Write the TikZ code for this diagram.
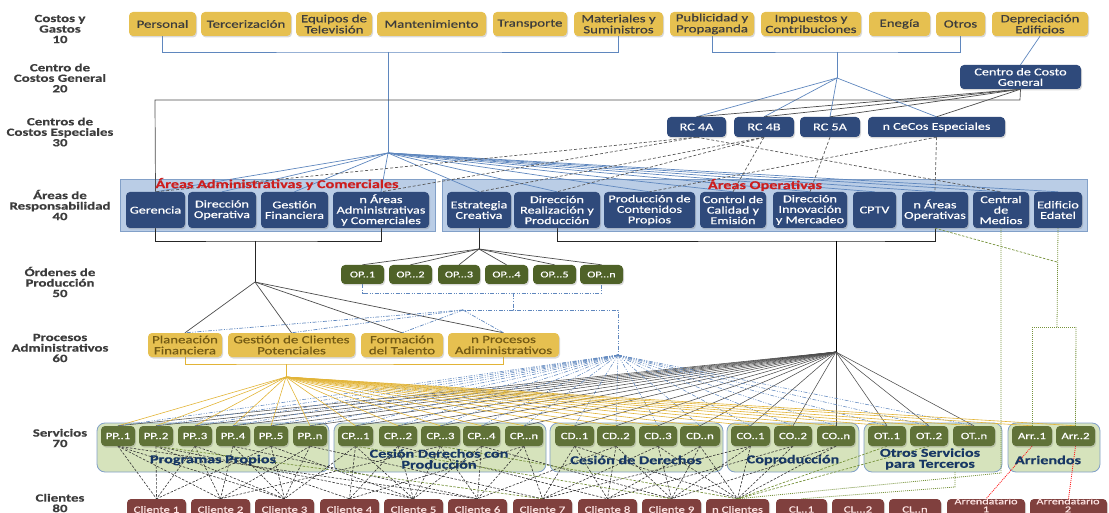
\documentclass[tikz,border=0pt]{standalone}
\usepackage{fontspec}
\setmainfont{Carlito}[FakeStretch=1.35,FakeBold=0.5]
\usetikzlibrary{shadows}
\pgfdeclarelayer{back}\pgfdeclarelayer{bg}\pgfsetlayers{back,bg,main}
\definecolor{gold}{RGB}{230,192,80}
\definecolor{goldln}{RGB}{226,180,55}
\definecolor{navy}{RGB}{47,74,123}
\definecolor{bluebg}{RGB}{186,205,230}
\definecolor{blueedge}{RGB}{130,160,200}
\definecolor{opgreen}{RGB}{79,98,40}
\definecolor{svc}{RGB}{96,114,56}
\definecolor{greenbg}{RGB}{214,227,188}
\definecolor{brownc}{RGB}{128,64,62}
\definecolor{lnblue}{RGB}{95,135,190}
\definecolor{oliveln}{RGB}{119,147,60}
\definecolor{lblgray}{RGB}{60,60,60}
\definecolor{titlered}{RGB}{205,30,30}
\definecolor{grpblue}{RGB}{23,55,100}
\definecolor{prtext}{RGB}{115,90,20}
\newcommand\bx[7]{\node[#1,minimum width={(#4-#3)*1pt},minimum height={(#6-#5)*1pt}] (#2) at ({(#3+#4)/2},{(#5+#6)/2}) {#7};}
\begin{document}
\begin{tikzpicture}[x=1pt,y=-1pt,
 shad/.style={drop shadow={shadow xshift=1pt,shadow yshift=-1.5pt,opacity=0.3}},
 boxbase/.style={draw=none,rounded corners=4pt,align=center,inner sep=1pt,shad},
 ybox/.style={boxbase,fill=gold,text=lblgray,font=\fontsize{11}{11}\selectfont},
 prbox/.style={boxbase,fill=gold,text=prtext,font=\fontsize{11}{11}\selectfont},
 nbox/.style={boxbase,fill=navy,text=white,font=\fontsize{10.5}{10.5}\selectfont},
 opbox/.style={boxbase,fill=opgreen,text=white,font=\fontsize{9}{9}\selectfont},
 svbox/.style={boxbase,fill=svc,text=white,font=\fontsize{9.5}{9.5}\selectfont},
 clbox/.style={boxbase,fill=brownc,text=white!90!red,font=\fontsize{9.5}{9}\selectfont},
 cltxt/.style={align=center,inner sep=0pt,text=white!90!red,font=\fontsize{9}{8}\selectfont},
 grpA/.style={draw=blueedge,fill=bluebg,line width=0.8pt},
 grpS/.style={draw=blueedge,fill=greenbg,rounded corners=8pt,line width=0.8pt},
 lbl/.style={align=center,text=lblgray,font=\bfseries\fontsize{11}{10.5}\selectfont},
 ttl/.style={text=titlered,font=\bfseries\fontsize{12}{12}\selectfont,inner sep=0pt},
 glbl/.style={align=center,text=grpblue,font=\bfseries\fontsize{12}{11}\selectfont,inner sep=0pt},
 bln/.style={draw=lnblue,line width=0.7pt},
 kln/.style={draw=black!70,line width=0.7pt},
 dkln/.style={draw=black!85,line width=0.6pt},
 yln/.style={draw=goldln,line width=0.6pt},
 bdd/.style={draw=lnblue,line width=0.7pt,dash pattern=on 4pt off 1.5pt on 1pt off 1.5pt on 1pt off 1.5pt},
 gdash/.style={draw=black!65,line width=0.7pt,dash pattern=on 3pt off 2pt},
 kdash/.style={draw=black!80,line width=0.6pt,dash pattern=on 2.5pt off 1.5pt},
 odash/.style={draw=oliveln,line width=0.7pt,dash pattern=on 2.5pt off 1.5pt},
 odot/.style={draw=oliveln,line width=0.8pt,dash pattern=on 1pt off 1pt},
 rdot/.style={draw=red!90,line width=0.8pt,dash pattern=on 1pt off 1pt}]
\useasboundingbox (0,0) rectangle (1109,513);
% ---------- level labels
\node[lbl] (l10) at (60,29) {Costos y\\Gastos\\10};
\node[lbl] (l20) at (60,78) {Centro de\\Costos General\\20};
\node[lbl] (l30) at (60,132) {Centros de\\Costos Especiales\\30};
\node[lbl] (l40) at (60,205) {Áreas de\\Responsabilidad\\40};
\node[lbl] (l50) at (60,282) {Órdenes de\\Producción\\50};
\node[lbl] (l60) at (60,348) {Procesos\\Administrativos\\60};
\node[lbl] (l70) at (60,438) {Servicios\\70};
\node[lbl] (l80) at (60,503) {Clientes\\80};
% ---------- containers
\begin{pgfonlayer}{back}
\bx{grpA}{gadm}{120}{435}{179}{231}{}
\bx{grpA}{gops}{442}{1087}{179}{231}{}
\bx{grpS}{gpp}{97}{329}{423}{472}{}
\bx{grpS}{gcp}{334}{546}{423}{472}{}
\bx{grpS}{gcd}{550}{723}{423}{472}{}
\bx{grpS}{gco}{727}{859}{423}{472}{}
\bx{grpS}{got}{864}{1002}{423}{472}{}
\bx{grpS}{gar}{1008}{1100}{423}{472}{}
\end{pgfonlayer}
% ---------- top row
\bx{ybox}{pers}{129}{196}{12}{36}{Personal}
\bx{ybox}{terc}{201}{291}{12}{36}{Tercerización}
\bx{ybox}{equi}{296}{372}{12}{36}{Equipos de\\Televisión}
\bx{ybox}{mant}{377}{486}{12}{36}{Mantenimiento}
\bx{ybox}{tran}{493}{567}{12}{36}{Transporte}
\bx{ybox}{mate}{574}{663}{12}{36}{Materiales y\\Suministros}
\bx{ybox}{publ}{670}{754}{12}{36}{Publicidad y\\Propaganda}
\bx{ybox}{impu}{761}{861}{12}{36}{Impuestos y\\Contribuciones}
\bx{ybox}{ener}{869}{930}{12}{36}{Enegía}
\bx{ybox}{otro}{936}{985}{12}{36}{Otros}
\bx{ybox}{depr}{992}{1088}{12}{36}{Depreciación\\Edificios}
\bx{nbox}{ccg}{960}{1081}{65}{89}{Centro de Costo\\General}
% ---------- RC
\bx{nbox}{rca}{667}{726}{117}{137}{RC 4A}
\bx{nbox}{rcb}{734}{794}{117}{137}{RC 4B}
\bx{nbox}{rcc}{800}{860}{117}{137}{RC 5A}
\bx{nbox}{rcn}{868}{1005}{117}{137}{n CeCos Especiales}
% ---------- areas
\bx{nbox}{ger}{126}{185}{192}{228}{Gerencia}
\bx{nbox}{dop}{188}{256}{192}{228}{Dirección\\Operativa}
\bx{nbox}{gfin}{261}{328}{192}{228}{Gestión\\Financiera}
\bx{nbox}{nadm}{333}{429}{192}{228}{n Áreas\\Administrativas\\y Comerciales}
\bx{nbox}{estr}{447}{511}{192}{228}{Estrategia\\Creativa}
\bx{nbox}{drp}{514}{600}{192}{228}{Dirección\\Realización y\\Producción}
\bx{nbox}{pcp}{604}{695}{192}{228}{Producción de\\Contenidos\\Propios}
\bx{nbox}{ccal}{700}{766}{192}{228}{Control de\\Calidad y\\Emisión}
\bx{nbox}{dinn}{773}{847}{192}{228}{Dirección\\Innovación\\y Mercadeo}
\bx{nbox}{cptv}{853}{896}{192}{228}{CPTV}
\bx{nbox}{nop}{902}{968}{192}{228}{n Áreas\\Operativas}
\bx{nbox}{cmed}{973}{1029}{192}{228}{Central\\de\\Medios}
\bx{nbox}{edat}{1034}{1082}{192}{228}{Edificio\\Edatel}
\node[ttl] (tadm) at (277,184) {Áreas Administrativas y Comerciales};
\node[ttl] (tops) at (765,185) {Áreas Operativas};
% ---------- OP
\bx{opbox}{op1}{341}{384}{265}{284}{OP..1}
\bx{opbox}{op2}{389}{432}{265}{284}{OP...2}
\bx{opbox}{op3}{438}{480}{265}{284}{OP...3}
\bx{opbox}{op4}{485}{528}{265}{284}{OP...4}
\bx{opbox}{op5}{533}{576}{265}{284}{OP...5}
\bx{opbox}{opn}{580}{623}{265}{284}{OP...n}
% ---------- procesos
\bx{prbox}{plan}{148}{222}{333}{357}{Planeación\\Financiera}
\bx{prbox}{gest}{228}{355}{333}{357}{Gestión de Clientes\\Potenciales}
\bx{prbox}{form}{361}{443}{333}{357}{Formación\\del Talento}
\bx{prbox}{npro}{448}{559}{333}{357}{n Procesos\\Adiministrativos}
% ---------- services
\bx{svbox}{pp1}{101}{135}{426}{446}{PP..1}
\bx{svbox}{pp2}{139}{173}{426}{446}{PP..2}
\bx{svbox}{pp3}{178}{212}{426}{446}{PP..3}
\bx{svbox}{pp4}{216}{250}{426}{446}{PP..4}
\bx{svbox}{pp5}{254}{288}{426}{446}{PP..5}
\bx{svbox}{ppn}{293}{327}{426}{446}{PP..n}
\bx{svbox}{cp1}{338}{373}{426}{446}{CP...1}
\bx{svbox}{cp2}{379}{417}{426}{446}{CP...2}
\bx{svbox}{cp3}{421}{460}{426}{446}{CP...3}
\bx{svbox}{cp4}{463}{500}{426}{446}{CP...4}
\bx{svbox}{cpn}{505}{543}{426}{446}{CP...n}
\bx{svbox}{cd1}{555}{594}{426}{446}{CD..1}
\bx{svbox}{cd2}{597}{635}{426}{446}{CD..2}
\bx{svbox}{cd3}{639}{677}{426}{446}{CD..3}
\bx{svbox}{cdn}{680}{720}{426}{446}{CD..n}
\bx{svbox}{co1}{731}{770}{426}{446}{CO..1}
\bx{svbox}{co2}{774}{812}{426}{446}{CO..2}
\bx{svbox}{con}{817}{855}{426}{446}{CO..n}
\bx{svbox}{ot1}{868}{906}{426}{446}{OT..1}
\bx{svbox}{ot2}{910}{948}{426}{446}{OT..2}
\bx{svbox}{otn}{953}{995}{426}{446}{OT..n}
\bx{svbox}{arr1}{1012}{1052}{426}{446}{Arr..1}
\bx{svbox}{arr2}{1056}{1095}{426}{446}{Arr..2}
\node[glbl] (tpp) at (213,460) {Programas Propios};
\node[glbl] (tcp) at (439,459) {Cesión Derechos con\\Producción};
\node[glbl] (tcd) at (636,460) {Cesión de Derechos};
\node[glbl] (tco) at (793,460) {Coproducción};
\node[glbl] (tot) at (930,459) {Otros Servicios\\para Terceros};
\node[glbl] (tar) at (1048,460) {Arriendos};
% ---------- clients
\bx{clbox}{c1}{127}{186}{499}{520}{Cliente 1}
\bx{clbox}{c2}{191}{250}{499}{520}{Cliente 2}
\bx{clbox}{c3}{255}{314}{499}{520}{Cliente 3}
\bx{clbox}{c4}{320}{379}{499}{520}{Cliente 4}
\bx{clbox}{c5}{384}{443}{499}{520}{Cliente 5}
\bx{clbox}{c6}{448}{507}{499}{520}{Cliente 6}
\bx{clbox}{c7}{513}{572}{499}{520}{Cliente 7}
\bx{clbox}{c8}{578}{637}{499}{520}{Cliente 8}
\bx{clbox}{c9}{642}{701}{499}{520}{Cliente 9}
\bx{clbox}{nc}{706}{769}{499}{520}{n Clientes}
\bx{clbox}{cl1}{776}{827}{499}{520}{CL..1}
\bx{clbox}{cl2}{832}{884}{499}{520}{CL...2}
\bx{clbox}{cln}{889}{941}{499}{520}{CL..n}
\bx{clbox}{ad1}{947}{1025}{499}{520}{}
\bx{clbox}{ad2}{1030}{1107}{499}{520}{}
\node[cltxt,anchor=south] (ad1t) at (986,512.5) {Arrendatario\\1};
\node[cltxt,anchor=south] (ad2t) at (1068,512.5) {Arrendatario\\2};
% ---------- coordinates
\coordinate (ja) at (388,52);
\coordinate (hA) at (388,153);
\coordinate (jb) at (837,52);
\coordinate (hB) at (837,78);
\coordinate (cc1) at (1020,100);
\coordinate (cc2) at (155,100);
\coordinate (jadm) at (255,241);
\coordinate (hC) at (255,282);
\coordinate (jops) at (836,241);
\coordinate (hS) at (836,352);
\coordinate (hO) at (479,249);
\coordinate (jop) at (513,293);
\coordinate (jop2) at (513,310);
\coordinate (jop3) at (618,310);
\coordinate (hP) at (463,310);
\coordinate (hD) at (618,355);
\coordinate (jpr) at (286,364);
\coordinate (hY) at (286,377);
\coordinate (ed1) at (1057,327);
\coordinate (ed2) at (1032,327);
\coordinate (ed3) at (1076,327);
\coordinate (ednop) at (1057,262);
\coordinate (cm1) at (1001,473);
\coordinate (otb) at (955,472);
\coordinate (otb2) at (955,487);
% ---------- connectors
\begin{pgfonlayer}{bg}
\draw[bln] (pers.south) |- (ja) -| (mate.south);
\draw[bln] (ja) -- (hA);
\draw[bln] (publ.south) |- (jb) -| (otro.south);
\draw[bln] (jb) -- (hB);
\draw[bln] (depr.south) -- (ccg.north);
\foreach \t in {rca,rcb,rcc,rcn} {\draw[bln] (hB) -- (\t.north); \draw[kln] (ccg.south) -- (\t.north);}
\draw[kln] (ccg.south) -- (cc1) -- (cc2) -- (ger.north);
\foreach \t in {ger,dop,gfin,nadm,estr,drp,pcp,ccal,dinn,cptv,nop,cmed,edat} \draw[bln] (hA) -- (\t.north);
% RC dashed
\draw[gdash] (rca.south) -- (ger.north);
\draw[gdash] (rca.south) -- (nadm.north);
\draw[gdash] (rca.south) -- (cmed.north);
\draw[gdash] (rcb.south) -- (estr.north);
\draw[gdash] (rcb.south) -- (drp.north);
\draw[gdash] (rcb.south) -- (ccal.north);
\draw[gdash] (rcc.south) -- (dinn.north);
\draw[gdash] (rcn.south) -- (nop.north);
\draw[gdash] (rcn.south) -- (pcp.north);
% areas brackets
\draw[dkln] (ger.south) |- (jadm) -| (nadm.south);
\draw[dkln] (jadm) -- (hC);
\foreach \t in {plan,gest,form,npro} \draw[kln] (hC) -- (\t.north);
\draw[dkln] (drp.south) |- (jops) -| (nop.south);
\draw[black,line width=1pt] (jops) -- (hS);
\draw[dkln] (estr.south) -- (hO);
\foreach \t in {op1,op2,op3,op4,op5,opn} \draw[kln] (hO) -- (\t.north);
% OP dash-dot
\draw[bdd] (op1.south) |- (jop) -| (opn.south);
\draw[bdd] (jop) -- (jop2) -- (jop3) -- (hD);
\draw[bdd] (jop2) -- (hP);
\foreach \t in {plan,gest,form,npro} \draw[bdd] (hP) -- (\t.north);
% procesos bracket
\draw[yln,line width=0.8pt] (plan.south) |- (jpr) -| (npro.south);
\draw[yln,line width=0.8pt] (jpr) -- (hY);
% fans to services
\foreach \t in {pp1,pp2,pp3,pp4,pp5,ppn,cp1,cp2,cp3,cp4,cpn,cd1,cd2,cd3,cdn,co1,co2,con,ot1,ot2,otn} {
  \draw[yln] (hY) -- (\t.north);
  \draw[kln,line width=0.55pt] (hS) -- (\t.north);
  \draw[bdd,line width=0.55pt] (hD) -- (\t.north);
}
\draw[yln] (hY) -- (arr1.north);
\draw[yln] (hY) -- (arr2.north);
% services to clients
\foreach \s/\c in {pp1/c1,pp1/c2,pp1/c3,pp1/c6,pp2/c1,pp2/c3,pp2/c5,pp3/c1,pp3/c2,pp3/c4,
  pp4/c2,pp4/c3,pp4/c6,pp5/c1,pp5/c3,pp5/c5,ppn/c2,ppn/c3,ppn/c7,
  cp1/c3,cp1/c4,cp1/c5,cp2/c4,cp2/c5,cp2/c8,cp3/c2,cp3/c5,cp3/c6,cp4/c5,cp4/c6,cp4/c9,
  cpn/c4,cpn/c6,cpn/c7,cd1/c7,cd1/c8,cd1/nc,cd2/c6,cd2/c8,cd2/c9,cd3/c7,cd3/c9,cd3/nc,
  cdn/c8,cdn/c9,cdn/nc,co1/c9,co1/nc,co1/c7,co2/nc,co2/c8,con/nc,con/c9}
  \draw[kdash] (\s.south) -- (\c.north);
\foreach \s/\c in {pp2/c7,cp3/nc,cp1/c9,ot1/nc,ot2/nc}
  \draw[odash] (\s.south) -- (\c.north);
% olive / red dotted
\draw[odot] (cmed.south) -- (cm1) -- (nc.north);
\draw[odot] (edat.south) -- (ed1);
\draw[odot] (ed2) -- (ed3);
\draw[odot] (ed2) -- (arr1.north);
\draw[odot] (ed3) -- (arr2.north);
\draw[odash] (nop.south) -- (ednop);
\draw[odot] (otb) -- (otb2) -- (cl1.north);
\draw[rdot] (arr1.south) -- (ad1.north);
\draw[rdot] (arr2.south) -- (ad2.north);
\end{pgfonlayer}
\end{tikzpicture}
\end{document}
